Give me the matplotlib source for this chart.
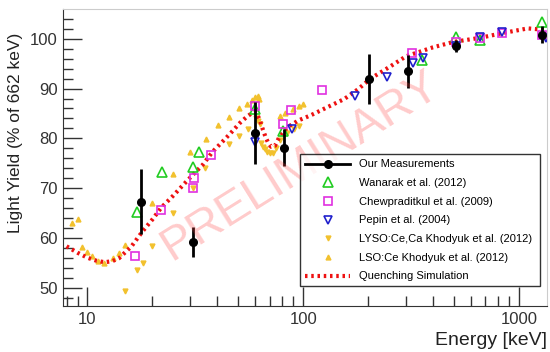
import numpy as np
import matplotlib
matplotlib.use("Agg")
import matplotlib.pyplot as plt
from matplotlib.lines import Line2D

plt.rcParams['font.family'] = ['Liberation Sans', 'DejaVu Sans']

# Our measurements
e_ours = [17.7, 30.9, 59.6, 81.3, 202, 307, 511, 1276]
ly_ours = [67.3, 59.1, 81.1, 78.1, 92.0, 93.5, 98.5, 100.8]
err_ours = [6.5, 3.0, 6.2, 3.7, 5.0, 3.3, 1.2, 1.7]

# Wanarak et al. (2012)
e_wan = [16.9, 22.2, 30.8, 33.0, 59.6, 81, 356, 511, 662, 1275]
ly_wan = [65.1, 73.3, 74.3, 77.3, 85.8, 81.5, 95.7, 100.3, 99.8, 103.3]

# Chewpraditkul et al. (2009)
e_chew = [16.6, 21.9, 31.0, 31.3, 37.4, 59.5, 81, 88, 122, 320, 511, 662, 835, 1275]
ly_chew = [56.3, 65.5, 70.1, 72.1, 76.6, 86.5, 82.8, 85.6, 89.7, 97.1, 99.3, 100.1, 101.1, 100.8]

# Pepin et al. (2004)
e_pep = [60, 89, 173, 244, 324, 361, 511, 662, 835, 1332]
ly_pep = [79.3, 81.9, 88.5, 92.3, 95.1, 96.1, 98.6, 100.3, 101.3, 100.1]

# LYSO:Ce,Ca Khodyuk et al. (2012)
e_lyso = [15.0, 17.0, 18.0, 20.0, 25.0, 30.8, 35.1, 45.4, 50.5, 55.5,
          60.5, 62, 63, 64, 65, 66.5, 68, 70, 72.5, 75, 78, 83.8, 91, 95.9]
ly_lyso = [49.3, 53.5, 54.9, 58.3, 64.9, 70.1, 74.1, 78.9, 80.5, 81.8,
           84.0, 83.5, 82.8, 79.1, 78.2, 77.8, 77.3, 77.0, 77.1, 78.1, 79.6, 81.1, 81.8, 82.5]

# LSO:Ce Khodyuk et al. (2012)
e_lso = [8.5, 9.06, 9.46, 9.9, 10.5, 11.2, 11.9, 13.2, 14.0, 15.0, 20.0, 25.0,
         29.9, 35.3, 40.4, 45.3, 50.4, 55.0, 58, 60, 61.5, 62.5, 78, 82.3, 90, 95.9, 99.5]
ly_lso = [63.0, 63.8, 58.1, 57.1, 56.4, 55.3, 54.9, 55.9, 56.9, 58.5, 67.0, 72.8,
          77.3, 79.9, 82.6, 84.3, 86.0, 86.9, 87.8, 88.3, 88.5, 88.0, 84.5, 85.1, 85.9, 86.6, 86.9]

# Quenching simulation
e_sim = [8, 9, 10, 11, 12, 13, 14, 16, 18, 20, 22, 25, 28, 31, 34.4, 38, 42.6, 46,
         50.9, 55, 58, 60, 61, 63, 65, 67, 69, 71, 74, 78, 85, 95, 108, 130, 155,
         180, 205, 250, 300, 400, 500, 660, 850, 1100, 1330]
ly_sim = [58.3, 57.0, 56.0, 55.4, 55.1, 55.3, 55.9, 58.3, 61.3, 63.7, 66.1, 68.5,
          70.8, 72.8, 74.8, 77.3, 79.5, 81.0, 83.1, 84.4, 85.1, 85.3, 85.0, 83.6,
          81.8, 80.2, 79.0, 78.3, 78.5, 80.5, 82.3, 83.6, 84.6, 86.3, 87.9, 89.9,
          92.0, 94.3, 96.5, 98.3, 99.4, 100.2, 101.2, 102.1, 101.8]

fig = plt.figure(figsize=(5.5, 3.52), dpi=100)
ax = fig.add_axes([63/550, 1-306/352, 484/550, 297/352])

yel = '#f2c12e'
h_lyso, = ax.plot(e_lyso, ly_lyso, 'v', color=yel, ms=3.5, ls='none')
h_lso, = ax.plot(e_lso, ly_lso, '^', color=yel, ms=3.5, ls='none')
h_sim, = ax.plot(e_sim, ly_sim, color='#ee1111', lw=3, ls=(0, (0.6, 0.9)))
h_wan, = ax.plot(e_wan, ly_wan, '^', mfc='none', mec='#22cc22', mew=1.2, ms=7, ls='none')
h_chew, = ax.plot(e_chew, ly_chew, 's', mfc='none', mec='#e030e0', mew=1.2, ms=5.5, ls='none')
h_pep, = ax.plot(e_pep, ly_pep, 'v', mfc='none', mec='#2020cc', mew=1.2, ms=5.5, ls='none')
ax.errorbar(e_ours, ly_ours, yerr=err_ours, fmt='o', color='black', ms=5.5, elinewidth=2,
            capsize=0, lw=2)
h_ours = Line2D([], [], color='black', marker='o', ms=5.5, lw=2)

ax.set_xscale('log')
ax.set_xlim(7.7, 1350)
ax.set_ylim(46.3, 106)
ax.set_xticks([10, 100, 1000])
ax.set_xticklabels(['10', '100', '1000'])
ax.set_yticks([50, 60, 70, 80, 90, 100])
ax.set_yticks(np.arange(48, 106, 2), minor=True)
ax.tick_params(which='major', direction='in', length=14, width=1, labelsize=12, colors='#333333', pad=4)
ax.tick_params(which='minor', direction='in', length=7, width=1, colors='#333333')
ax.tick_params(axis='y', which='both', right=False)
ax.tick_params(axis='x', which='both', top=False)
ax.tick_params(axis='x', which='minor', labelbottom=False)
for s in ['top', 'right']:
    ax.spines[s].set_color('#cccccc')
for s in ['left', 'bottom']:
    ax.spines[s].set_color('#333333')

ax.set_xlabel('Energy [keV]', fontsize=14, loc='right', color='#222222')
ax.set_ylabel('Light Yield (% of 662 keV)', fontsize=12.5, color='#222222', ha='right')
ax.yaxis.set_label_coords(-0.083, 0.92)

leg = ax.legend([h_ours, h_wan, h_chew, h_pep, h_lyso, h_lso, h_sim],
                ['Our Measurements', 'Wanarak et al. (2012)', 'Chewpraditkul et al. (2009)',
                 'Pepin et al. (2004)', 'LYSO:Ce,Ca Khodyuk et al. (2012)',
                 'LSO:Ce Khodyuk et al. (2012)', 'Quenching Simulation'],
                loc='lower left', bbox_to_anchor=(0.479, 0.047, 0.517, 0.448), mode='expand',
                fontsize=8, frameon=True, fancybox=False, edgecolor='black',
                labelspacing=0.78, handlelength=4, borderpad=0.45)
leg.get_frame().set_linewidth(1)

ax.text(0.49, 0.47, 'PRELIMINARY', transform=ax.transAxes, rotation=32,
        fontsize=34, color='#ff4444', alpha=0.28, ha='center', va='center')

fig.savefig('out.png', dpi=100)
